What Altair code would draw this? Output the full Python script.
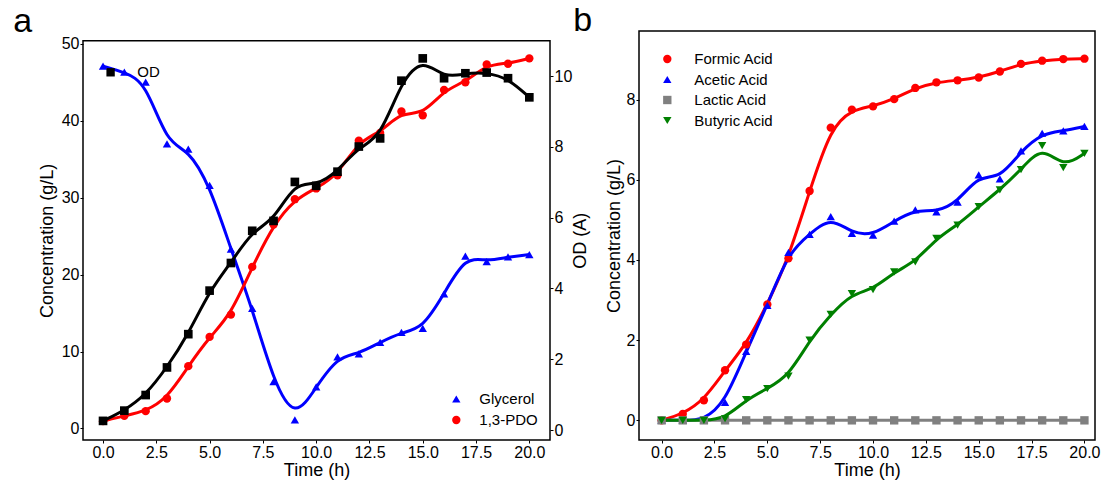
import altair as alt
import pandas as pd

hours = list(range(21))
glycerol = [47.1, 46.3, 45.0, 37.0, 36.3, 31.6, 23.3, 15.6, 6.1, 1.1, 5.4, 9.3, 9.7, 11.2, 12.5, 13.0, 17.5, 22.4, 21.7, 22.3, 22.6]
pdo = [0.95, 1.65, 2.25, 3.9, 8.1, 11.9, 14.8, 21.0, 26.5, 29.8, 31.2, 32.9, 37.4, 38.4, 41.2, 40.7, 44.0, 45.0, 47.3, 47.4, 48.1]
od = [0.26, 0.55, 0.99, 1.77, 2.71, 3.94, 4.72, 5.63, 5.91, 7.01, 6.90, 7.30, 8.01, 8.24, 9.87, 10.50, 9.94, 10.08, 10.10, 9.94, 9.40]

formic = [0.0, 0.16, 0.5, 1.25, 1.89, 2.89, 4.04, 5.72, 7.3, 7.75, 7.83, 8.01, 8.29, 8.43, 8.48, 8.55, 8.7, 8.89, 8.97, 9.01, 9.02]
acetic = [0.0, 0.0, 0.0, 0.45, 1.72, 2.87, 4.19, 4.64, 5.08, 4.66, 4.62, 4.97, 5.25, 5.2, 5.44, 6.12, 6.02, 6.72, 7.16, 7.22, 7.33]
lactic = [0.0, 0.0, 0.0, 0.0, 0.0, 0.0, 0.0, 0.0, 0.0, 0.0, 0.0, 0.0, 0.0, 0.0, 0.0, 0.0, 0.0, 0.0, 0.0, 0.0, 0.0]
butyric = [0.0, 0.0, 0.0, 0.04, 0.52, 0.79, 1.1, 2.0, 2.64, 3.16, 3.26, 3.7, 3.95, 4.54, 4.87, 5.33, 5.75, 6.25, 6.85, 6.3, 6.66]

left_series = ["Glycerol", "1,3-PDO"]
left_colors = ["#0000ff", "#ff0000"]
left_shapes = ["triangle-up", "circle"]

right_series = ["Formic Acid", "Acetic Acid", "Lactic Acid", "Butyric Acid"]
right_colors = ["#ff0000", "#0000ff", "#808080", "#008000"]
right_shapes = ["circle", "triangle-up", "square", "triangle-down"]

x_ticks = [0, 2.5, 5, 7.5, 10, 12.5, 15, 17.5, 20]
FONT = "Liberation Sans"
H = 409          # both panels share this height
TOP_A = 9.7      # panel a frame starts this far below panel b's top

df_left = pd.DataFrame({
    "Time": hours * 2,
    "Conc": glycerol + pdo,
    "Series": [left_series[0]] * len(hours) + [left_series[1]] * len(hours),
})
df_od = pd.DataFrame({"Time": hours, "OD": od})
df_right = pd.DataFrame({
    "Time": hours * 4,
    "Conc": formic + acetic + lactic + butyric,
    "Series": sum([[s] * len(hours) for s in right_series], []),
})

x_axis = alt.Axis(values=x_ticks, format=".1f", title="Time (h)", titlePadding=1)
one = pd.DataFrame({"v": [0]})


def frame(w, top, bottom):
    return alt.Chart(one).mark_rect(filled=False, stroke="black", strokeWidth=1.5).encode(
        x=alt.value(0), x2=alt.value(w), y=alt.value(top), y2=alt.value(bottom))


def legend_entry(label, color, shape, sx, sy, tx):
    d = pd.DataFrame({"label": [label]})
    sym = alt.Chart(d).mark_point(filled=True, size=70, opacity=1, color=color, shape=shape).encode(
        x=alt.value(sx), y=alt.value(sy))
    txt = alt.Chart(d).mark_text(align="left", baseline="middle", font=FONT, fontSize=15, color="black").encode(
        text="label:N", x=alt.value(tx), y=alt.value(sy))
    return [sym, txt]


def label(txt, x, y, opacity=1):
    return alt.Chart(pd.DataFrame({"label": [txt]})).mark_text(
        align="left", baseline="alphabetic", font=FONT, fontSize=34, color="black", opacity=opacity).encode(
        text="label:N", x=alt.value(x), y=alt.value(y))


# ---------------- panel a ----------------
xl = alt.X("Time:Q", scale=alt.Scale(domain=[-0.94, 20.97], nice=False, zero=False), axis=x_axis)
yl = alt.Y("Conc:Q", scale=alt.Scale(domain=[-1.5, 50.4], nice=False, zero=False, range=[H, TOP_A]),
           axis=alt.Axis(values=[0, 10, 20, 30, 40, 50], title="Concentration (g/L)", titlePadding=5))

conc_lines = alt.Chart(df_left).mark_line(interpolate="basis", strokeWidth=3).encode(
    x=xl, y=yl,
    stroke=alt.Stroke("Series:N", scale=alt.Scale(domain=left_series, range=left_colors), legend=None))
conc_pts = alt.Chart(df_left).mark_point(filled=True, size=70, opacity=1).encode(
    x=xl, y=yl,
    color=alt.Color("Series:N", scale=alt.Scale(domain=left_series, range=left_colors), legend=None),
    shape=alt.Shape("Series:N", scale=alt.Scale(domain=left_series, range=left_shapes), legend=None))

yod = alt.Y("OD:Q", scale=alt.Scale(domain=[-0.28, 11.0], nice=False, zero=False, range=[H, TOP_A]),
            axis=alt.Axis(values=[0, 2, 4, 6, 8, 10], orient="right", title="OD (A)",
                          titleAngle=270, titleBaseline="top", titlePadding=0))
od_line = alt.Chart(df_od).mark_line(interpolate="basis", strokeWidth=3, color="black").encode(x=xl, y=yod)
od_pts = alt.Chart(df_od).mark_square(size=75, color="black", opacity=1).encode(x=xl, y=yod)

deco_a = [frame(467, TOP_A, H)]
deco_a += legend_entry("OD", "black", "square", 27.6, 41.3, 54.3)
for i, (s, c, sh) in enumerate(zip(left_series, left_colors, left_shapes)):
    deco_a += legend_entry(s, c, sh, 373.3, 368 + 21 * i, 396.3)
deco_a += [label("a", -69.7, 1), label("b", 490.3, 0)]

panel_a = alt.layer(
    alt.layer(conc_lines, conc_pts),
    alt.layer(od_line, od_pts, *deco_a),
).resolve_scale(y="independent").properties(width=467, height=H)

# ---------------- panel b ----------------
xr = alt.X("Time:Q", scale=alt.Scale(domain=[-1.07, 20.5], nice=False, zero=False), axis=x_axis)
yr = alt.Y("Conc:Q", scale=alt.Scale(domain=[-0.49, 9.71], nice=False, zero=False),
           axis=alt.Axis(values=[0, 2, 4, 6, 8], title="Concentration (g/L)", titlePadding=3))

r_lines = alt.Chart(df_right).mark_line(interpolate="basis", strokeWidth=3).encode(
    x=xr, y=yr,
    stroke=alt.Stroke("Series:N", scale=alt.Scale(domain=right_series, range=right_colors), legend=None))
r_pts = alt.Chart(df_right).mark_point(filled=True, size=70, opacity=1).encode(
    x=xr, y=yr,
    color=alt.Color("Series:N", scale=alt.Scale(domain=right_series, range=right_colors), legend=None),
    shape=alt.Shape("Series:N", scale=alt.Scale(domain=right_series, range=right_shapes), legend=None))

deco_b = [frame(456, 0, H)]
for i, (s, c, sh) in enumerate(zip(right_series, right_colors, right_shapes)):
    deco_b += legend_entry(s, c, sh, 28.3, 28 + 20.5 * i, 55.3)
# invisible twin of the "b" label so both columns have the same top bound
deco_b += [label("b", 5, 0, opacity=0)]

panel_b = alt.layer(r_lines, r_pts, *deco_b).properties(width=456, height=H)

chart = alt.hconcat(panel_a, panel_b, spacing=11).resolve_scale(
    x="independent", y="independent", color="independent", shape="independent", stroke="independent"
).properties(
    padding={"left": 4, "top": -5, "right": 0, "bottom": 0}
).configure_view(stroke="transparent").configure_axis(
    grid=False, domain=False, labelFont=FONT, titleFont=FONT, labelFontSize=16, titleFontSize=18,
    titleFontWeight="normal", labelColor="black", titleColor="black", tickColor="black", tickSize=3,
    labelPadding=1,
)

chart.save("out.html", embed_options={"renderer": "svg", "actions": False})
